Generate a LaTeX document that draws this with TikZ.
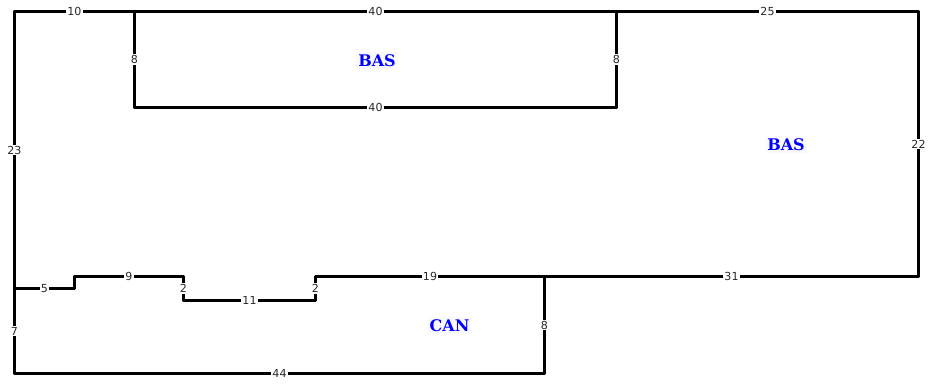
\documentclass[tikz,border=0pt]{standalone}
\usepackage{fontspec}
\setmainfont{DejaVu Sans}
\newfontfamily\roomfont{DejaVu Serif}
\definecolor{roombg}{RGB}{250,250,253}
\definecolor{lenink}{RGB}{40,40,40}
\tikzset{
    wall/.style={line width=2.25pt, line cap=round, line join=miter},
    len/.style={fill=white, text=lenink, inner sep=0.8pt, font=\fontsize{8.3}{9}\selectfont},
    room/.style={fill=roombg, text=blue, inner sep=1.5pt, font=\roomfont\bfseries\fontsize{12}{14}\selectfont}
}
\begin{document}
\begin{tikzpicture}[x=0.75pt, y=-0.75pt]
        \useasboundingbox (0,0) rectangle (931,385);
        % corners
        \coordinate (tl) at (14.5,11.5);
        \coordinate (ta) at (134.5,11.5);
        \coordinate (tb) at (616.5,11.5);
        \coordinate (tr) at (918.5,11.5);
        \coordinate (ia) at (134.5,107.5);
        \coordinate (ib) at (616.5,107.5);
        \coordinate (br) at (918.5,276.5);
        \coordinate (mc) at (544.5,276.5);
        \coordinate (sa) at (315.5,276.5);
        \coordinate (sb) at (315.5,300.5);
        \coordinate (sc) at (183.5,300.5);
        \coordinate (sd) at (183.5,276.5);
        \coordinate (se) at (74.5,276.5);
        \coordinate (sf) at (74.5,288.5);
        \coordinate (ml) at (14.5,288.5);
        \coordinate (bl) at (14.5,373.5);
        \coordinate (bm) at (544.5,373.5);
        % outline
        \draw[wall] (tl) -- node[len, pos=0.5] {10} (ta);
        \draw[wall] (ta) -- node[len, pos=0.5] {40} (tb);
        \draw[wall] (tb) -- node[len, pos=0.5] {25} (tr);
        \draw[wall] (tr) -- node[len, pos=0.5] {22} (br);
        \draw[wall] (br) -- node[len, pos=0.5] {31} (mc);
        \draw[wall] (mc) -- node[len, pos=0.5] {19} (sa);
        \draw[wall] (sa) -- node[len, pos=0.5] {2} (sb);
        \draw[wall] (sb) -- node[len, pos=0.5] {11} (sc);
        \draw[wall] (sc) -- node[len, pos=0.5] {2} (sd);
        \draw[wall] (sd) -- node[len, pos=0.5] {9} (se);
        \draw[wall] (se) -- (sf);
        \draw[wall] (sf) -- node[len, pos=0.5] {5} (ml);
        \draw[wall] (ml) -- node[len, pos=0.5] {23} (tl);
        \draw[wall] (ml) -- node[len, pos=0.5] {7} (bl);
        \draw[wall] (bl) -- node[len, pos=0.5] {44} (bm);
        \draw[wall] (bm) -- node[len, pos=0.5] {8} (mc);
        % inner room
        \draw[wall] (ta) -- node[len, pos=0.5] {8} (ia);
        \draw[wall] (ia) -- node[len, pos=0.5] {40} (ib);
        \draw[wall] (ib) -- node[len, pos=0.5] {8} (tb);
        % room names
        \node[room] (basa) at (377,60.5) {BAS};
        \node[room] (basb) at (786,144.5) {BAS};
        \node[room] (can) at (449.5,325.5) {CAN};
    \end{tikzpicture}
\end{document}
